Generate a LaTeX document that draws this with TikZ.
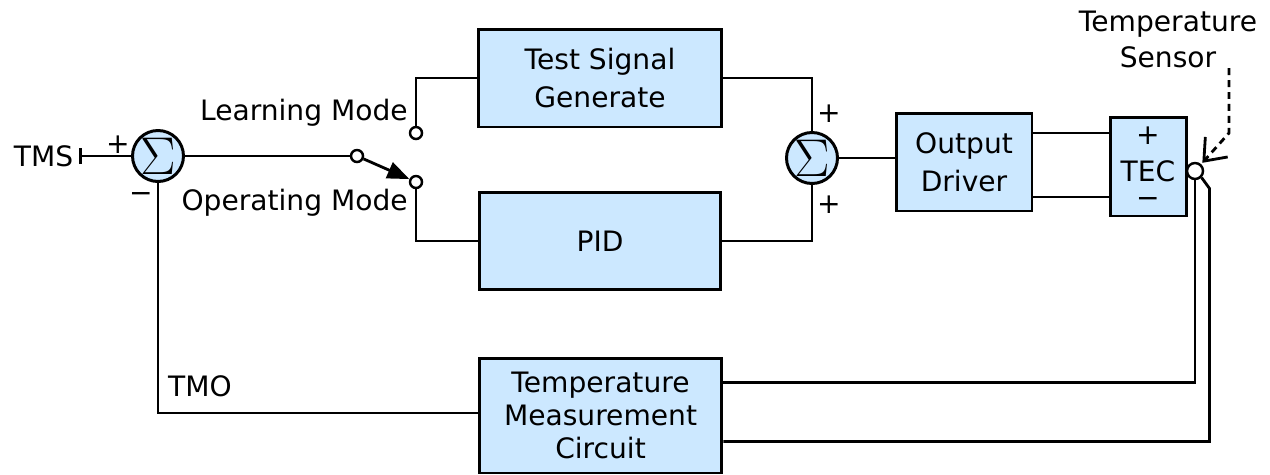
\documentclass[tikz,border=0pt]{standalone}
\usepackage{graphicx}
\usepackage{fontspec}
\setmainfont{DejaVu Sans}
\usetikzlibrary{arrows.meta,calc}
\definecolor{blockfill}{HTML}{CCE8FF}

\begin{document}
\begin{tikzpicture}[
  x=0.02cm, y=-0.02cm,
  font=\fontsize{16}{21.5}\selectfont,
  wire/.style={line width=1.6pt},
  block/.style={draw, line width=1.7pt, fill=blockfill, align=center,
                inner sep=2pt},
  summer/.style={draw, circle, line width=1.7pt, fill=blockfill,
                 minimum size=1.02cm, inner sep=0pt,
                 label={[inner sep=0pt]center:\scalebox{1.75}{$\Sigma$}}},
  contact/.style={draw, circle, line width=1.4pt, fill=white,
                  minimum size=0.24cm, inner sep=0pt},
  lbl/.style={inner sep=0pt},
  swarrow/.style={wire, -{Triangle[length=0.44cm, width=0.34cm]}},
  sense/.style={wire, dash pattern=on 0.14cm off 0.1cm,
                -{Straight Barb[length=0.38cm, width=0.6cm]}, shorten >=1pt},
]
\useasboundingbox (0,0) rectangle (1270,474);

% --- summing points and blocks
\node[summer] (sumIn)  at (158,156) {};
\node[summer] (sumOut) at (812,158) {};

\node[block, minimum width=4.86cm, minimum height=1.96cm] (testgen) at (600,78)
  {Test Signal\\Generate};
\node[block, minimum width=4.82cm, minimum height=1.94cm] (pid) at (600,241) {PID};
\node[block, minimum width=2.72cm, minimum height=1.96cm] (driver) at (964,162)
  {Output\\Driver};
\node[block, minimum width=1.52cm, minimum height=1.98cm] (tec) at (1148,166.5) {};
\node[block, minimum width=4.86cm, minimum height=2.3cm,
      font=\fontsize{16}{19}\selectfont] (tmc) at (600.5,415.5)
  {Temperature\\Measurement\\Circuit};

\node[lbl] at (1148,136) {+};
\node[lbl] at (1148,171) {TEC};
\node[lbl] at (1148,203) {−};

% --- mode switch
\node[contact] (pivot) at (357,156) {};
\node[contact] (learnC) at (416,133) {};
\node[contact] (operC) at (416,182) {};
\node[lbl, anchor=east] (learnLbl) at (408,113) {Learning Mode};
\node[lbl, anchor=east] (operLbl) at (408,203) {Operating Mode};

% --- sensor on the TEC
\node[contact, minimum size=0.32cm] (sensor) at (1195,171) {};
\node[lbl, align=center, font=\fontsize{16}{20.5}\selectfont] (sensLbl) at (1168,39)
  {Temperature\\Sensor};
\coordinate (sensTop) at (1229,68);

% --- signs at the summing points
\node[lbl] at (118,145) {+};
\node[lbl] at (141,198) {−};
\node[lbl] at (829,114) {+};
\node[lbl] at (829,205) {+};

% --- input and forward path
\node[lbl, anchor=east, inner xsep=0.11cm] (tms) at (79,156) {TMS};
\draw[wire, {Bar[width=0.32cm]}-] (tms.east) -- (sumIn);
\draw[wire] (sumIn) -- (pivot);
\draw[swarrow] (pivot) -- (operC);
\draw[wire] (learnC) |- (testgen.west);
\draw[wire] (operC) |- (pid.west);
\draw[wire] (testgen.east) -| (sumOut.north);
\draw[wire] (pid.east) -| (sumOut.south);
\draw[wire] (sumOut) -- (sumOut -| driver.west);
\draw[wire] ([yshift=0.58cm]driver.east) -- ([yshift=0.58cm]driver.east -| tec.west);
\draw[wire] ([yshift=-0.7cm]driver.east) -- ([yshift=-0.7cm]driver.east -| tec.west);

% --- sensor leads back to the measurement circuit
\draw[sense] (sensTop) -- ++(0,65) -- (sensor);
\draw[wire] (sensor.south) |- ([yshift=0.66cm]tmc.east);
\draw[wire] (sensor.-45) -- ++(8,11) |- ([yshift=-0.52cm]tmc.east);

% --- feedback
\draw[wire] ([yshift=0.05cm]tmc.west) -| (sumIn.south);
\node[lbl] (tmo) at (200,386) {TMO};
\end{tikzpicture}
\end{document}
